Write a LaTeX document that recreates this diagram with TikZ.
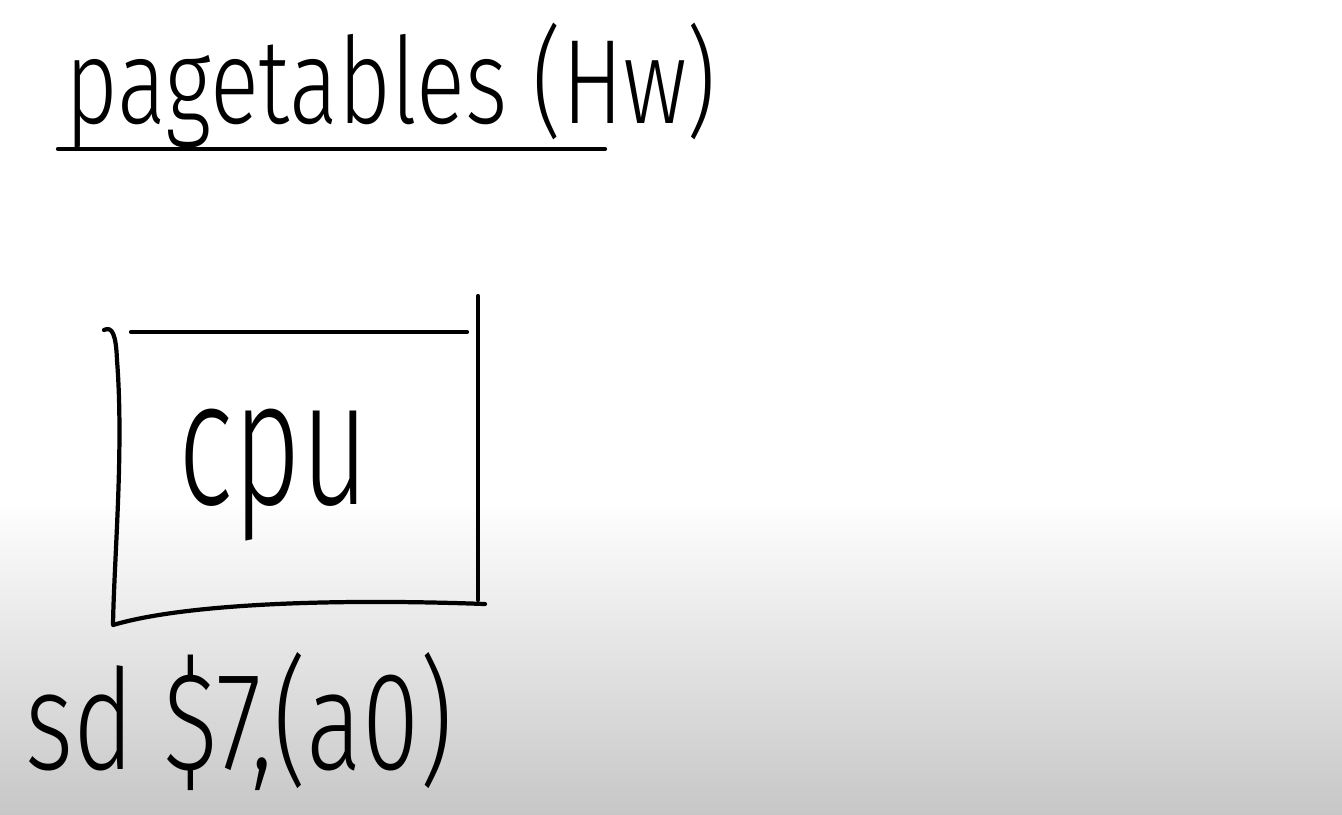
\documentclass[tikz,border=0pt]{standalone}
\usepackage{fontspec}
\setmainfont{Fira Sans Light}
\usepackage{graphicx}
\usepackage{tikz}
\usetikzlibrary{calc,positioning}

\tikzset{ink/.style={line width=1.2pt,line cap=round,line join=round}}

\begin{document}
\begin{tikzpicture}[x=0.01cm,y=-0.01cm]
  \useasboundingbox (0,0) rectangle (1342,814);
  \fill[white] (0,0) rectangle (1342,814);
  \shade[top color=white,bottom color=black!22] (0,500) rectangle (1342,814);
  % heading
  \node[anchor=north west,inner sep=0] (ttl) at (65,22) {\resizebox*{6.5cm}{1.25cm}{pagetables (Hw)}};
  \draw[ink] (58,149) -- (605,149);
  % the cpu box, drawn in loose strokes
  \draw[ink] (104,330) .. controls (112,326) and (116,334) .. (117,360)
    .. controls (124,450) and (114,560) .. (113,625)
    .. controls (180,605) and (320,598) .. (485,604);
  \draw[ink] (131,332) -- (467,332);
  \draw[ink] (478,296) -- (478,600);
  \node[anchor=north west,inner sep=0] (cpu) at (178,408) {\resizebox*{1.9cm}{1.32cm}{cpu}};
  % instruction below
  \node[anchor=north west,inner sep=0] (sd) at (25,652) {\resizebox*{4.27cm}{1.38cm}{sd \$7,(a0)}};
\end{tikzpicture}
\end{document}
